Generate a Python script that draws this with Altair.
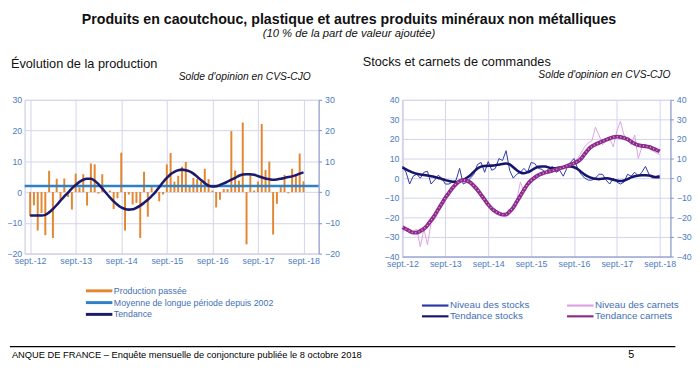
import altair as alt
import pandas as pd

FONT = "Liberation Sans"

TITLE = "Produits en caoutchouc, plastique et autres produits minéraux non métalliques"
SUBTITLE = "(10 % de la part de valeur ajoutée)"
LEFT_TITLE = "Évolution de la production"
RIGHT_TITLE = "Stocks et carnets de commandes"
UNIT_NOTE = "Solde d'opinion en CVS-CJO"
FOOTER = "ANQUE DE FRANCE –   Enquête mensuelle de conjoncture publiée le 8 octobre 2018"
PAGE = "5"

# month index 0 = sept. 2012 ... 72 = sept. 2018
YEAR_TICKS = [0, 12, 24, 36, 48, 60, 72]
YEAR_LABELS = ["sept.-12", "sept.-13", "sept.-14", "sept.-15", "sept.-16", "sept.-17", "sept.-18"]

L_SERIES = ["Production passée", "Moyenne de longue période depuis 2002", "Tendance"]
R_SERIES = ["Niveau des stocks", "Niveau des carnets", "Tendance stocks", "Tendance carnets"]

production = [-7.8, -4.3, -12.5, -6.8, -14.0, 6.9, -14.9, 4.3, -2.4, 4.4,
              -1.6, -5.7, 6.0, 1.5, 5.8, -4.4, 9.3, 9.0, -0.5, 5.8,
              -0.5, 0.5, -5.5, -2.0, 12.8, -12.5, -0.8, -4.0, -3.5, -14.9,
              6.6, -8.0, 1.6, 0.5, -3.0, -0.8, 9.0, 12.7, 3.4, 5.3,
              8.2, 9.8, 1.8, 4.6, 4.2, 3.3, 7.6, 4.2, 0.5, -5.0,
              -2.5, 1.0, 1.0, 19.8, 7.0, 3.7, 22.6, -17.0, 5.6, 0.5,
              3.4, 22.1, 7.2, 9.9, -13.8, -3.8, 1.6, 5.6, -0.4, 7.6,
              5.4, 12.5, 3.5]
tendance_prod = [-7.6, -7.6, -7.6, -7.6, -7.4, -6.6, -5.5, -4.2, -2.8, -1.4,
                 -0.2, 1.2, 2.3, 3.3, 4.0, 4.3, 4.3, 3.7, 2.6, 1.2,
                 -0.3, -1.7, -3.0, -4.1, -5.0, -5.5, -5.7, -5.6, -5.1, -4.4,
                 -3.5, -2.5, -1.3, 0.0, 1.6, 3.2, 4.6, 5.8, 6.6, 7.1,
                 7.3, 7.1, 6.7, 6.0, 5.0, 3.9, 2.9, 2.1, 1.8, 1.9,
                 2.3, 2.8, 3.4, 4.0, 4.6, 5.3, 5.7, 5.8, 5.8, 5.6,
                 5.2, 4.8, 4.4, 4.2, 4.0, 4.1, 4.3, 4.6, 4.9, 5.1,
                 5.5, 6.0, 6.4]
moyenne = [2.0]

stocks = [6, 3, -3, 1, 2, 0, 3, 3.5, -3, -1,
          1.5, 0, -3, -3, -2, -1, 5, -3, -2, 0,
          2, 7, 8, 3, 8.5, 4, 5, 10, 9, 14,
          4, 0, 2, 3, 5, 3, 8, 7.5, 5, 4.5,
          3, 5, 6, 3, 4, 1, 5, 8, 10, 5,
          2, 0, -1, -1, 0, 2, 2, -1, -3, 0,
          -2, -3, -2, 2, 1, 3, 1, 3, 6, 2,
          0, 1, 1.5]
tendance_stocks = [5.5, 4.5, 3.6, 2.8, 2.2, 1.9, 1.6, 1.3, 1.0, 0.6,
                   0.1, -0.4, -1.0, -1.5, -1.8, -2.0, -1.6, -0.9, 0.2, 1.5,
                   3.3, 4.9, 5.9, 6.2, 6.3, 6.4, 6.6, 6.9, 7.2, 7.5,
                   7.0, 5.6, 4.0, 2.9, 2.5, 3.0, 3.9, 5.0, 5.8, 6.0,
                   5.9, 5.4, 5.0, 5.1, 5.4, 5.6, 5.9, 5.9, 5.6, 4.7,
                   3.2, 1.8, 0.8, 0.1, -0.3, -0.5, -0.3, 0.0, -0.3, -0.8,
                   -1.2, -1.5, -1.2, -0.5, 0.4, 1.0, 1.3, 1.5, 1.5, 1.4,
                   0.9, 0.5, 0.5]
carnets = [-27, -26, -28, -27, -26, -35, -26, -34, -23, -21,
           -17, -13, -10, -7, -4, -2, -1, -1, -1, -1,
           -3, -6, -9, -11, -13, -15, -16, -18, -19, -20,
           -18, -15, -11, -2, -7, -2, 0, 1, 2, 2,
           3, 4, 4, 5, 5, 6, 7, 7, 8, 10,
           13, 16, 18, 19, 26, 22, 17, 19, 20, 16,
           24, 29, 22, 20, 17, 22, 10, 16, 17, 15,
           14, 13, 12]
tendance_carnets = [-25, -26, -27, -27.8, -27.8, -27, -25.8, -24, -21.5, -19,
                    -16, -13, -10, -7.5, -5, -3, -1.5, -1, -1.3, -2.3,
                    -4, -6, -8.5, -11, -13.5, -15.5, -17, -18, -18.6, -18.5,
                    -17, -15, -12, -9, -6, -3.2, -1.2, 0.3, 1.5, 2.3,
                    2.9, 3.4, 3.9, 4.4, 5, 5.5, 6.2, 6.9, 7.6, 8.5,
                    10, 12.3, 14.6, 16.2, 17.2, 18, 18.8, 19.6, 20.3, 20.9,
                    21.2, 21, 20.5, 19.8, 18.6, 17.5, 16.8, 16.5, 16.3, 15.9,
                    15.2, 14.5, 13.7]

# ---------------------------------------------------------------- styles
GRID = "#d3d3ee"
AXIS_DOM = "#7d8fcc"
LBL = "#4d7cc0"
LEG_LBL = "#3f6fb5"


def month_df(values, serie):
    return pd.DataFrame({"m": list(range(len(values))), "v": values, "serie": serie})


label_expr = "[" + ",".join("'%s'" % l for l in YEAR_LABELS) + "][round(datum.value/12)]"


def x_enc(domain, dom_color):
    return alt.X("m:Q", scale=alt.Scale(domain=domain, nice=False, zero=False),
                 axis=alt.Axis(values=YEAR_TICKS, labelExpr=label_expr, title=None, grid=True,
                               gridColor=GRID, ticks=False, domainColor=dom_color, labelPadding=3,
                               labelFlush=False, labelOverlap=False, labelColor=LBL,
                               labelFontSize=9, labelFont=FONT))


def y_axis_left(vals):
    return alt.Axis(values=vals, title=None, grid=True, gridColor=GRID, ticks=False,
                    domainColor=GRID, labelPadding=3, labelColor=LBL, labelFontSize=9,
                    labelFont=FONT)


def y_axis_right(vals):
    return alt.Axis(orient="right", values=vals, title=None, grid=False, ticks=True, tickSize=3,
                    tickColor=AXIS_DOM, domainColor=AXIS_DOM, labelPadding=3, labelColor=LBL,
                    labelFontSize=9, labelFont=FONT)


def legend(x, y, cols, colpad, width, size, rowpad):
    return alt.Legend(title=None, orient="none", legendX=x, legendY=y, columns=cols,
                      direction="horizontal", columnPadding=colpad, symbolType="M-3,0H3",
                      symbolSize=81, symbolStrokeWidth=width, labelOffset=9, labelFontSize=size,
                      labelColor=LEG_LBL, labelFont=FONT, labelLimit=0, rowPadding=rowpad,
                      padding=0)


def note(txt, x, y, size, align="left", style="normal"):
    return alt.Chart(pd.DataFrame({"t": [txt]})).mark_text(
        align=align, baseline="alphabetic", fontSize=size, font=FONT, fontStyle=style,
        color="#111111").encode(x=alt.value(x), y=alt.value(y), text="t:N")


# ---------------------------------------------------------------- left panel
LW, LH = 300, 157
xL = x_enc([-0.15, 74.7], GRID)
yL = alt.Scale(domain=[-20, 30], nice=False, zero=False)
yL_vals = [-20, -10, 0, 10, 20, 30]
cL = alt.Scale(domain=L_SERIES, range=["#e3862f", "#2f80c4", "#1b1a6c"])

trend_l = alt.Chart(month_df(tendance_prod, L_SERIES[2])).mark_line(strokeWidth=2.6, interpolate="monotone").encode(
    x=xL, y=alt.Y("v:Q", scale=yL, axis=y_axis_right(yL_vals)),
    color=alt.Color("serie:N", scale=cL, legend=legend(70, 189, 1, 10, 3, 9, -2)))
bars = alt.Chart(month_df(production, L_SERIES[0])).mark_bar(size=2).encode(
    x=xL, y=alt.Y("v:Q", scale=yL, axis=y_axis_left(yL_vals)),
    color=alt.Color("serie:N", scale=cL))
mean_rule = alt.Chart(pd.DataFrame({"v": moyenne, "serie": [L_SERIES[1]]})).mark_rule(strokeWidth=2.5).encode(
    y=alt.Y("v:Q", scale=yL, axis=None),
    color=alt.Color("serie:N", scale=cL))

left = alt.layer(
    bars, mean_rule, trend_l,
    note(LEFT_TITLE, -14, -32, 13),
    note(UNIT_NOTE, 292, -20, 10.5, "right", "italic"),
).resolve_axis(y="independent").properties(width=LW, height=LH)

# ---------------------------------------------------------------- right panel
RW, RH = 274, 160
xR = x_enc([-0.15, 75.0], AXIS_DOM)
yR = alt.Scale(domain=[-40, 40], nice=False, zero=False)
yR_vals = [-40, -30, -20, -10, 0, 10, 20, 30, 40]
cR = alt.Scale(domain=R_SERIES, range=["#2d35a6", "#d9a3e3", "#15166b", "#8b2c8b"])

carn_l = alt.Chart(month_df(carnets, R_SERIES[1])).mark_line(strokeWidth=1).encode(
    x=xR, y=alt.Y("v:Q", scale=yR, axis=y_axis_left(yR_vals)),
    color=alt.Color("serie:N", scale=cR, legend=legend(28, 204, 2, 33, 2.2, 10, 0)))
stock_l = alt.Chart(month_df(stocks, R_SERIES[0])).mark_line(strokeWidth=1).encode(
    x=xR, y=alt.Y("v:Q", scale=yR, axis=None),
    color=alt.Color("serie:N", scale=cR))
stock_t = alt.Chart(month_df(tendance_stocks, R_SERIES[2])).mark_line(strokeWidth=2.6, interpolate="monotone").encode(
    x=xR, y=alt.Y("v:Q", scale=yR, axis=None),
    color=alt.Color("serie:N", scale=cR))
carn_t = alt.Chart(month_df(tendance_carnets, R_SERIES[3])).mark_line(strokeWidth=4, interpolate="monotone").encode(
    x=xR, y=alt.Y("v:Q", scale=yR, axis=y_axis_right(yR_vals)),
    color=alt.Color("serie:N", scale=cR))
carn_dots = alt.Chart(month_df(tendance_carnets, R_SERIES[3])).mark_line(
    strokeWidth=1.5, strokeDash=[1, 2.6], color="#e39be4", interpolate="monotone").encode(
    x=xR, y=alt.Y("v:Q", scale=yR, axis=None))

right = alt.layer(
    carn_l, stock_l, stock_t, carn_t, carn_dots,
    note(RIGHT_TITLE, -40, -34, 13),
    note(UNIT_NOTE, 274, -22, 10.5, "right", "italic"),
).resolve_axis(y="independent").properties(width=RW, height=RH)

# ---------------------------------------------------------------- footer
fdf = pd.DataFrame({"t": [FOOTER]})
f_rule = alt.Chart(fdf).mark_rule(color="black", strokeWidth=1.2).encode(
    x=alt.value(-15), x2=alt.value(664), y=alt.value(0))
f_text = alt.Chart(fdf).mark_text(align="left", baseline="alphabetic", fontSize=9.5, font=FONT,
                                  color="black").encode(x=alt.value(-13), y=alt.value(12), text="t:N")
f_page = alt.Chart(pd.DataFrame({"t": [PAGE]})).mark_text(
    align="left", baseline="alphabetic", fontSize=11, font=FONT, color="black").encode(
    x=alt.value(616), y=alt.value(12), text="t:N")
footer = alt.layer(f_rule, f_text, f_page).properties(
    width=640, height=12, view=alt.ViewBackground(strokeOpacity=0))

top = alt.hconcat(left, right, spacing=22).resolve_scale(color="independent").resolve_legend(color="independent")

chart = alt.vconcat(top, footer, spacing=24).properties(
    title=alt.TitleParams(TITLE, subtitle=SUBTITLE, font=FONT, fontSize=14.5, fontWeight="bold",
                          subtitleFont=FONT, subtitleFontSize=11.5, subtitleFontStyle="italic",
                          subtitleColor="#111111", color="#111111", anchor="middle",
                          subtitlePadding=1, offset=16),
    padding={"left": -2, "top": 0, "right": 0, "bottom": 0},
    background="white",
).configure_view(stroke=GRID).configure(font=FONT)

chart.save("out.html", embed_options={"renderer": "svg", "actions": False})
